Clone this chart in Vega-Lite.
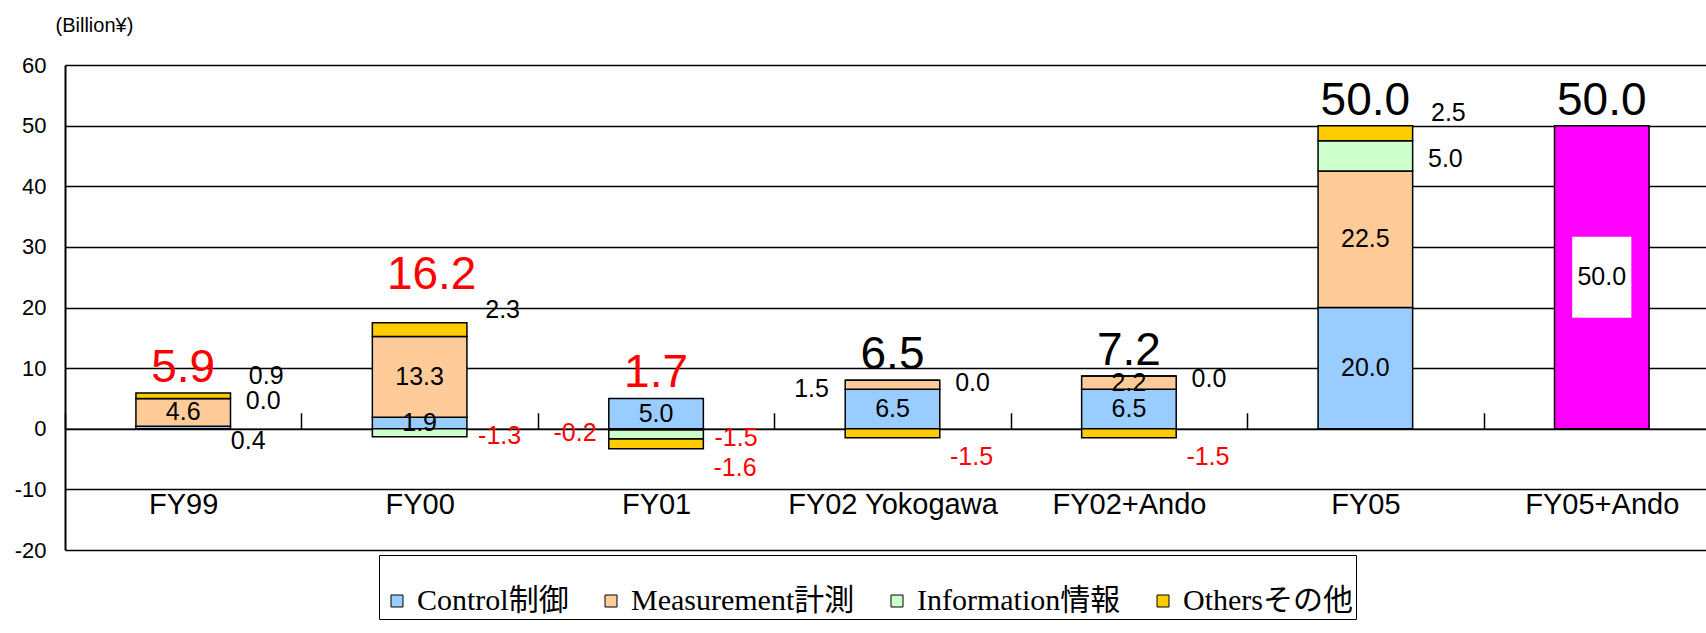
{
  "$schema": "https://vega.github.io/schema/vega-lite/v6.json",
  "autosize": {"type": "none"},
  "width": 1641,
  "height": 485,
  "padding": {"left": 65, "top": 65, "right": 0, "bottom": 83},
  "background": "white",
  "config": {
    "view": {"stroke": null},
    "font": "Liberation Sans, Arial, sans-serif",
    "locale": {"number": {"decimal": ".", "thousands": ",", "grouping": [3], "currency": ["", ""], "minus": "-"}}
  },
  "datasets": {
    "segments": [
      {"cat": "FY99", "series": "Control制御", "idx": 1, "value": 0.4},
      {"cat": "FY99", "series": "Measurement計測", "idx": 2, "value": 4.6},
      {"cat": "FY99", "series": "Information情報", "idx": 3, "value": 0.0},
      {"cat": "FY99", "series": "Othersその他", "idx": 4, "value": 0.9},
      {"cat": "FY00", "series": "Control制御", "idx": 1, "value": 1.9},
      {"cat": "FY00", "series": "Measurement計測", "idx": 2, "value": 13.3},
      {"cat": "FY00", "series": "Information情報", "idx": 3, "value": -1.3},
      {"cat": "FY00", "series": "Othersその他", "idx": 4, "value": 2.3},
      {"cat": "FY01", "series": "Control制御", "idx": 1, "value": 5.0},
      {"cat": "FY01", "series": "Measurement計測", "idx": 2, "value": -0.2},
      {"cat": "FY01", "series": "Information情報", "idx": 3, "value": -1.5},
      {"cat": "FY01", "series": "Othersその他", "idx": 4, "value": -1.6},
      {"cat": "FY02 Yokogawa", "series": "Control制御", "idx": 1, "value": 6.5},
      {"cat": "FY02 Yokogawa", "series": "Measurement計測", "idx": 2, "value": 1.5},
      {"cat": "FY02 Yokogawa", "series": "Information情報", "idx": 3, "value": 0.0},
      {"cat": "FY02 Yokogawa", "series": "Othersその他", "idx": 4, "value": -1.5},
      {"cat": "FY02+Ando", "series": "Control制御", "idx": 1, "value": 6.5},
      {"cat": "FY02+Ando", "series": "Measurement計測", "idx": 2, "value": 2.2},
      {"cat": "FY02+Ando", "series": "Information情報", "idx": 3, "value": 0.0},
      {"cat": "FY02+Ando", "series": "Othersその他", "idx": 4, "value": -1.5},
      {"cat": "FY05", "series": "Control制御", "idx": 1, "value": 20.0},
      {"cat": "FY05", "series": "Measurement計測", "idx": 2, "value": 22.5},
      {"cat": "FY05", "series": "Information情報", "idx": 3, "value": 5.0},
      {"cat": "FY05", "series": "Othersその他", "idx": 4, "value": 2.5},
      {"cat": "FY05+Ando", "series": "Total incl. Ando", "idx": 5, "value": 50.0}
    ]
  },
  "data": {"name": "segments"},
  "encoding": {
    "x": {
      "field": "cat",
      "type": "nominal",
      "sort": ["FY99", "FY00", "FY01", "FY02 Yokogawa", "FY02+Ando", "FY05", "FY05+Ando"],
      "scale": {"range": [0, 1655], "paddingInner": 0, "paddingOuter": 0},
      "axis": {
        "orient": "bottom",
        "offset": -121.25,
        "title": null,
        "domain": true,
        "domainColor": "black",
        "domainWidth": 1.5,
        "tickBand": "extent",
        "tickSize": -16,
        "tickColor": "black",
        "tickWidth": 1.5,
        "labelFont": "Liberation Sans, Arial, sans-serif",
        "labelFontSize": 29,
        "labelColor": "black",
        "labelPadding": 92,
        "labelBaseline": "middle",
        "labelAngle": 0,
        "labelOverlap": false,
        "labelFlush": false,
        "labelLimit": 0,
        "grid": false
      }
    }
  },
  "layer": [
    {
      "mark": {"type": "bar", "width": {"band": 0.4}, "stroke": "black", "strokeWidth": 1.5},
      "encoding": {
        "y": {
          "field": "value",
          "type": "quantitative",
          "stack": "zero",
          "scale": {"domain": [-20, 60], "nice": false, "zero": false},
          "axis": {
            "title": "(Billion¥)",
            "titleAngle": 0,
            "titleAlign": "left",
            "titleBaseline": "middle",
            "titleX": -10,
            "titleY": -40,
            "titleFont": "Liberation Sans, Arial, sans-serif",
            "titleFontSize": 20,
            "titleFontWeight": "normal",
            "titleColor": "black",
            "values": [-20, -10, 0, 10, 20, 30, 40, 50, 60],
            "grid": true,
            "gridColor": "black",
            "gridWidth": 1.3,
            "domainColor": "black",
            "domainWidth": 2,
            "ticks": false,
            "labelPadding": 19,
            "labelFont": "Liberation Sans, Arial, sans-serif",
            "labelFontSize": 22,
            "labelColor": "black",
            "labelFlush": false
          }
        },
        "color": {
          "field": "series",
          "type": "nominal",
          "scale": {
            "domain": ["Control制御", "Measurement計測", "Information情報", "Othersその他", "Total incl. Ando"],
            "range": ["#99CCFF", "#FFCC99", "#CCFFCC", "#FFCC00", "#FF00FF"]
          },
          "legend": {
            "values": ["Control制御", "Measurement計測", "Information情報", "Othersその他"],
            "orient": "none",
            "legendX": 314,
            "legendY": 490,
            "direction": "horizontal",
            "title": " ",
            "titleFontSize": 10,
            "titlePadding": 18,
            "padding": 3,
            "strokeColor": "black",
            "fillColor": "white",
            "symbolType": "square",
            "symbolSize": 144,
            "symbolStrokeColor": "black",
            "symbolStrokeWidth": 1,
            "labelFont": "Liberation Serif, Noto Sans CJK JP, serif",
            "labelFontSize": 30,
            "labelColor": "black",
            "labelOffset": 5,
            "columnPadding": 27,
            "labelLimit": 0
          }
        },
        "order": {"field": "idx", "type": "quantitative"}
      }
    },
    {
      "transform": [{"filter": "datum.idx == 5"}],
      "mark": {"type": "point", "shape": "M -0.73 -1 L 0.73 -1 L 0.73 1 L -0.73 1 Z", "filled": true, "fill": "white", "opacity": 1, "strokeWidth": 0, "size": 6561},
      "encoding": {
        "y": {"field": "value", "type": "quantitative", "stack": "zero", "bandPosition": 0.5},
        "detail": {"field": "series"}
      }
    },
    {
      "mark": {"type": "text", "fontSize": 25, "font": "Liberation Sans, Arial, sans-serif"},
      "encoding": {
        "y": {"field": "value", "type": "quantitative", "stack": "zero", "bandPosition": 0.5},
        "detail": {"field": "series"},
        "order": {"field": "idx", "type": "quantitative"},
        "text": {"condition": {"test": "indexof(['FY99|2','FY00|2','FY00|1','FY01|1','FY02 Yokogawa|1','FY02+Ando|1','FY02+Ando|2','FY05|1','FY05|2','FY05+Ando|5'], datum.cat + '|' + datum.idx) >= 0", "field": "value", "type": "quantitative", "format": ".1f"}, "value": ""},
        "color": {"condition": {"test": "datum.value < 0", "value": "#FF0000"}, "value": "black"}
      }
    },
    {
      "mark": {"type": "text", "fontSize": 25, "font": "Liberation Sans, Arial, sans-serif", "dx": 80, "dy": 3},
      "encoding": {
        "y": {"field": "value", "type": "quantitative", "stack": "zero", "bandPosition": 0.5},
        "detail": {"field": "series"},
        "order": {"field": "idx", "type": "quantitative"},
        "text": {"condition": {"test": "datum.idx == 3", "field": "value", "type": "quantitative", "format": ".1f"}, "value": ""},
        "color": {"condition": {"test": "datum.value < 0", "value": "#FF0000"}, "value": "black"}
      }
    },
    {
      "mark": {"type": "text", "fontSize": 25, "font": "Liberation Sans, Arial, sans-serif", "dx": 83, "dy": -20},
      "encoding": {
        "y": {"field": "value", "type": "quantitative", "stack": "zero", "bandPosition": 0.5},
        "detail": {"field": "series"},
        "order": {"field": "idx", "type": "quantitative"},
        "text": {"condition": {"test": "datum.idx == 4 && datum.value > 0", "field": "value", "type": "quantitative", "format": ".1f"}, "value": ""},
        "color": {"value": "black"}
      }
    },
    {
      "mark": {"type": "text", "fontSize": 25, "font": "Liberation Sans, Arial, sans-serif", "dx": 79, "dy": 24},
      "encoding": {
        "y": {"field": "value", "type": "quantitative", "stack": "zero", "bandPosition": 0.5},
        "detail": {"field": "series"},
        "order": {"field": "idx", "type": "quantitative"},
        "text": {"condition": {"test": "datum.idx == 4 && datum.value < 0", "field": "value", "type": "quantitative", "format": ".1f"}, "value": ""},
        "color": {"value": "#FF0000"}
      }
    },
    {
      "mark": {"type": "text", "fontSize": 25, "font": "Liberation Sans, Arial, sans-serif", "dx": -81, "dy": 4},
      "encoding": {
        "y": {"field": "value", "type": "quantitative", "stack": "zero", "bandPosition": 0.5},
        "detail": {"field": "series"},
        "order": {"field": "idx", "type": "quantitative"},
        "text": {"condition": {"test": "datum.idx == 2 && (datum.cat == 'FY01' || datum.cat == 'FY02 Yokogawa')", "field": "value", "type": "quantitative", "format": ".1f"}, "value": ""},
        "color": {"condition": {"test": "datum.value < 0", "value": "#FF0000"}, "value": "black"}
      }
    },
    {
      "mark": {"type": "text", "fontSize": 25, "font": "Liberation Sans, Arial, sans-serif", "dx": 65, "dy": 13},
      "encoding": {
        "y": {"field": "value", "type": "quantitative", "stack": "zero", "bandPosition": 0.5},
        "detail": {"field": "series"},
        "order": {"field": "idx", "type": "quantitative"},
        "text": {"condition": {"test": "datum.idx == 1 && datum.cat == 'FY99'", "field": "value", "type": "quantitative", "format": ".1f"}, "value": ""},
        "color": {"value": "black"}
      }
    },
    {
      "transform": [
        {"joinaggregate": [{"op": "sum", "field": "value", "as": "grand"}], "groupby": ["cat"]},
        {"filter": "datum.value > 0"},
        {"aggregate": [{"op": "sum", "field": "value", "as": "top"}, {"op": "max", "field": "grand", "as": "total"}], "groupby": ["cat"]},
        {"filter": "datum.cat != 'FY00'"}
      ],
      "mark": {"type": "text", "fontSize": 46, "font": "Liberation Sans, Arial, sans-serif", "dy": -25},
      "encoding": {
        "y": {"field": "top", "type": "quantitative"},
        "text": {"field": "total", "type": "quantitative", "format": ".1f"},
        "color": {"condition": {"test": "indexof(['FY99','FY00','FY01'], datum.cat) >= 0", "value": "#FF0000"}, "value": "black"}
      }
    },
    {
      "transform": [
        {"joinaggregate": [{"op": "sum", "field": "value", "as": "grand"}], "groupby": ["cat"]},
        {"filter": "datum.value > 0"},
        {"aggregate": [{"op": "sum", "field": "value", "as": "top"}, {"op": "max", "field": "grand", "as": "total"}], "groupby": ["cat"]},
        {"filter": "datum.cat == 'FY00'"}
      ],
      "mark": {"type": "text", "fontSize": 46, "font": "Liberation Sans, Arial, sans-serif", "dx": 12, "dy": -48},
      "encoding": {
        "y": {"field": "top", "type": "quantitative"},
        "text": {"field": "total", "type": "quantitative", "format": ".1f"},
        "color": {"value": "#FF0000"}
      }
    }
  ]
}
